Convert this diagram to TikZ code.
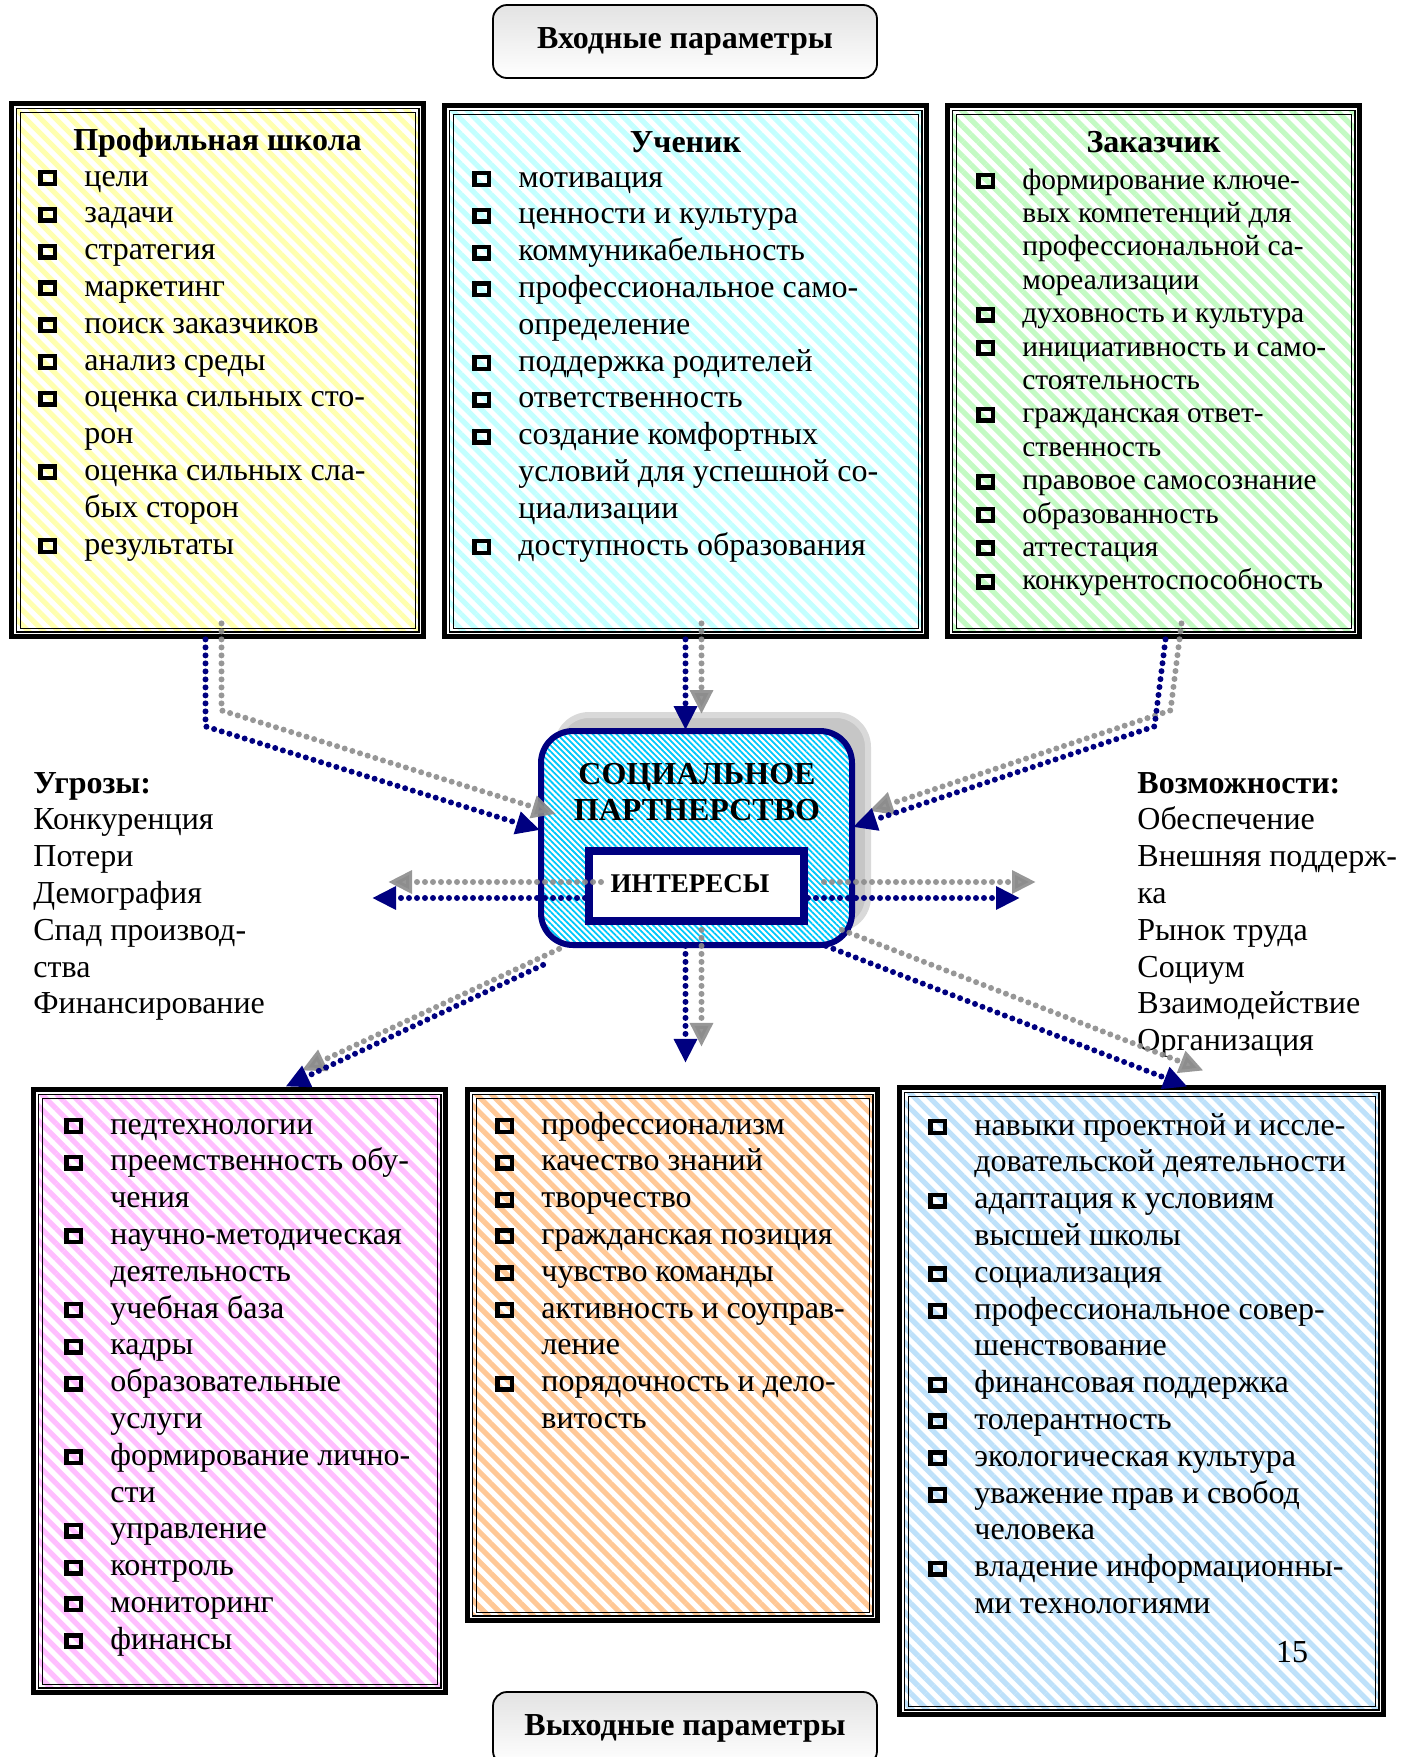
\documentclass[tikz,border=0pt]{standalone}
\usepackage{fontspec}
\setmainfont{Liberation Serif}
\usetikzlibrary{arrows.meta,patterns.meta,fit,calc}

\definecolor{temnosin}{RGB}{0,0,128}
\definecolor{serij}{RGB}{140,140,140}
\definecolor{biruz}{RGB}{0,200,250}
\definecolor{zhelt}{RGB}{255,255,175}
\definecolor{golub}{RGB}{195,255,255}
\definecolor{zelen}{RGB}{195,250,195}
\definecolor{rozov}{RGB}{255,190,255}
\definecolor{oranzh}{RGB}{255,200,150}
\definecolor{nebo}{RGB}{190,225,250}

% kvadratik-marker
\newcommand\kv{\raisebox{2.2pt}{\setlength\fboxsep{0pt}\setlength\fboxrule{2.2pt}%
  \fbox{\rule{0pt}{3.6pt}\hspace{5pt}}}}

% spisok s markerami, {razmer shrifta}{mezhstrochnyj interval}
\newenvironment{punkty}[2][16]{\fontsize{#1}{#2}\selectfont
  \begin{tabular}[t]{@{}p{23pt}@{}l@{}}}{\end{tabular}}

% ramka: imja, x1, y1, x2, y2, cvet shtrihovki
\newcommand\ramka[6]{%
  \fill[white] (#2,#3) rectangle (#4,#5);
  \fill[pattern={Lines[angle=-45,distance=5.3pt,line width=2.6pt]},pattern color=#6]
    (#2+8,#3+8) rectangle (#4-8,#5-8);
  \draw[line width=2.5pt] (#2+2.5,#3+2.5) rectangle (#4-2.5,#5-2.5);
  \draw[line width=0.75pt] (#2+7.25,#3+7.25) rectangle (#4-7.25,#5-7.25);
  \draw[line width=0.5pt] (#2+11,#3+11) rectangle (#4-11,#5-11);
  \node[fit={(#2,#3) (#4,#5)},inner sep=0pt] (#1) {};}

\begin{document}
\begin{tikzpicture}[x=0.5pt,y=-0.5pt,
    zagolovok/.style={anchor=base,inner sep=0pt,font=\fontsize{16}{18}\selectfont\bfseries},
    spisok/.style={anchor=base west,inner sep=0pt},
    knopka/.style={draw,line width=0.9pt,rounded corners=7pt,top color=gray!22,bottom color=white,
      minimum width=192pt,minimum height=36.5pt,inner sep=0pt,
      font=\fontsize{16}{18}\selectfont\bfseries},
    centrblok/.style={rounded corners=16pt,minimum width=155.5pt,minimum height=107pt,
      inner sep=0pt,line width=3pt},
    strelka/.style={temnosin,line width=3pt,line cap=round,dash pattern=on 0pt off 4pt,
      -{Triangle[length=12pt,width=11pt]}},
    tenstr/.style={strelka,serij,opacity=.9,transform canvas={shift={(8pt,8pt)}}}]

  \useasboundingbox (0,0) rectangle (1402,1757);

  %% ============================== vhod =====================================
  \node[knopka] (vhod) at (685,41.5) {Входные параметры};

  %% ============================== ramki ====================================
  \ramka{shkola}{9}{101}{426}{639}{zhelt}
  \ramka{uchenik}{442}{103}{929}{639}{golub}
  \ramka{zakazchik}{945}{103}{1362}{639}{zelen}
  \ramka{pedag}{31}{1087}{448}{1695}{rozov}
  \ramka{kachestvo}{465}{1087}{880}{1623}{oranzh}
  \ramka{vypusknik}{897}{1085}{1386}{1717}{nebo}

  %% ============================== teksty ===================================
  \node[zagolovok] (shkolazag) at (217.5,150) {Профильная школа};
  \node[spisok] (shkolaspis) at (38,186) {\begin{punkty}{18.4pt}
      \kv & цели\\ \kv & задачи\\ \kv & стратегия\\ \kv & маркетинг\\
      \kv & поиск заказчиков\\ \kv & анализ среды\\ \kv & оценка сильных сто-\\ & рон\\
      \kv & оценка сильных сла-\\ & бых сторон\\ \kv & результаты
    \end{punkty}};

  \node[zagolovok] (uchenikzag) at (685.5,152) {Ученик};
  \node[spisok] (uchenikspis) at (472,187) {\begin{punkty}{18.4pt}
      \kv & мотивация\\ \kv & ценности и культура\\ \kv & коммуникабельность\\
      \kv & профессиональное само-\\ & определение\\ \kv & поддержка родителей\\
      \kv & ответственность\\ \kv & создание комфортных\\ & условий для успешной со-\\
      & циализации\\ \kv & доступность образования
    \end{punkty}};

  \node[zagolovok] (zakazchikzag) at (1153.5,152) {Заказчик};
  \node[spisok] (zakazchikspis) at (976,189) {\begin{punkty}[14.7]{16.7pt}
      \kv & формирование ключе-\\ & вых компетенций для\\ & профессиональной са-\\
      & мореализации\\ \kv & духовность и культура\\ \kv & инициативность и само-\\
      & стоятельность\\ \kv & гражданская ответ-\\ & ственность\\
      \kv & правовое самосознание\\ \kv & образованность\\ \kv & аттестация\\
      \kv & конкурентоспособность
    \end{punkty}};

  \node[spisok] (pedagspis) at (64,1134) {\begin{punkty}{18.4pt}
      \kv & педтехнологии\\ \kv & преемственность обу-\\ & чения\\
      \kv & научно-методическая\\ & деятельность\\ \kv & учебная база\\ \kv & кадры\\
      \kv & образовательные\\ & услуги\\ \kv & формирование лично-\\ & сти\\
      \kv & управление\\ \kv & контроль\\ \kv & мониторинг\\ \kv & финансы
    \end{punkty}};

  \node[spisok] (kachestvospis) at (495,1134) {\begin{punkty}{18.4pt}
      \kv & профессионализм\\ \kv & качество знаний\\ \kv & творчество\\
      \kv & гражданская позиция\\ \kv & чувство команды\\ \kv & активность и соуправ-\\
      & ление\\ \kv & порядочность и дело-\\ & витость
    \end{punkty}};

  \node[spisok] (vypusknikspis) at (928,1135) {\begin{punkty}{18.4pt}
      \kv & навыки проектной и иссле-\\ & довательской деятельности\\
      \kv & адаптация к условиям\\ & высшей школы\\ \kv & социализация\\
      \kv & профессиональное совер-\\ & шенствование\\ \kv & финансовая поддержка\\
      \kv & толерантность\\ \kv & экологическая культура\\ \kv & уважение прав и свобод\\
      & человека\\ \kv & владение информационны-\\ & ми технологиями
    \end{punkty}};
  \node[anchor=base,inner sep=0pt,font=\fontsize{16}{18}\selectfont] (stranica) at (1292,1662) {15};

  \node[spisok] (ugrozy) at (33,793) {\fontsize{16}{18.4}\selectfont
    \begin{tabular}[t]{@{}l@{}}
      \textbf{Угрозы:}\\ Конкуренция\\ Потери\\ Демография\\ Спад производ-\\ ства\\
      Финансирование
    \end{tabular}};
  \node[spisok] (vozmozhnosti) at (1137,793) {\fontsize{16}{18.4}\selectfont
    \begin{tabular}[t]{@{}l@{}}
      \textbf{Возможности:}\\ Обеспечение\\ Внешняя поддерж-\\ ка\\ Рынок труда\\ Социум\\
      Взаимодействие\\ Организация
    \end{tabular}};

  %% ============================== centr ====================================
  \node[centrblok,fill=gray!45,draw=gray!30] (centrten) at (712.5,822) {};
  \node[centrblok,draw=temnosin,preaction={fill=white},
    pattern={Lines[angle=-45,distance=2.1pt,line width=0.9pt]},pattern color=biruz]
    (centr) at (696.5,838) {};
  \node[zagolovok] (partner) at (697,784)
    {\begin{tabular}[t]{@{}c@{}}СОЦИАЛЬНОЕ\\ ПАРТНЕРСТВО\end{tabular}};
  \node[draw=temnosin,line width=4pt,fill=white,minimum width=107.5pt,minimum height=35pt,
    inner sep=0pt] (interes) at (696.5,886) {};
  \node[anchor=base,inner sep=0pt,font=\fontsize{13.5}{16}\selectfont\bfseries]
    (interestekst) at (690,892) {ИНТЕРЕСЫ};

  %% ============================== strelki ==================================
  \foreach \st in {tenstr,strelka} {
    \draw[\st] ($(shkola.south)+(-12,0)$) -- ++(0,87) -- ($(centr.west)+(0,-8)$);
    \draw[\st] (uchenik.south) -- (uchenik.south |- centr.north);
    \draw[\st] ($(zakazchik.south)+(12,0)$) -- ($(zakazchik.south)+(1,87)$)
      -- ($(centr.east)+(0,-11)$);
    \draw[\st] ($(interes.west)+(0,12)$) -- ++(-213,0);
    \draw[\st] ($(interes.east)+(0,12)$) -- ++(212,0);
    \draw[\st] (centr.south -| uchenik.south) -- ++(0,117);
    \draw[\st] ($(centr.south west)+(3,19)$) -- ($(pedag.north)+(46,0)$);
    \draw[\st] ($(centr.south east)+(-27,0)$) -- ($(vypusknik.north)+(46,2)$);
  }

  %% ============================== vyhod ====================================
  \node[knopka] (vyhod) at (685,1728.5) {Выходные параметры};

\end{tikzpicture}
\end{document}
